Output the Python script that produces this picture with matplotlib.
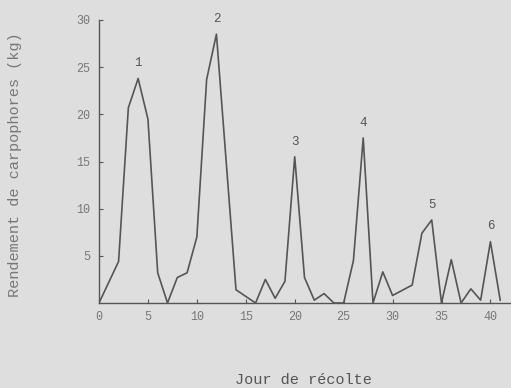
import matplotlib
matplotlib.use('Agg')
import matplotlib.pyplot as plt

# harvest days and yield (kg)
days = [0, 2, 3, 4, 5, 6, 7, 8, 9, 10, 11, 12, 14, 16, 17, 18, 19, 20,
        21, 22, 23, 24, 25, 26, 27, 28, 29, 30, 32, 33, 34, 35, 36, 37,
        38, 39, 40, 41]
yield_kg = [0, 4.4, 20.7, 23.8, 19.5, 3.2, 0, 2.7, 3.2, 7.0, 23.7, 28.5,
            1.4, 0, 2.5, 0.5, 2.3, 15.5, 2.7, 0.3, 1.0, 0, 0, 4.5, 17.5,
            0, 3.3, 0.8, 1.9, 7.4, 8.8, 0, 4.6, 0, 1.5, 0.3, 6.5, 0.3]

peak_labels = ['1', '2', '3', '4', '5', '6']
peak_days = [4, 12, 20, 27, 34, 40]

xticks = [0, 5, 10, 15, 20, 25, 30, 35, 40]
yticks = [5, 10, 15, 20, 25, 30]

bg = '#dedede'
ink = '#555555'
font = 'Liberation Mono'

fig = plt.figure(figsize=(5.11, 3.88), dpi=100, facecolor=bg)
ax = fig.add_axes([99 / 511, 85 / 388, 411 / 511, 283 / 388], facecolor=bg)

ax.plot(days, yield_kg, color=ink, linewidth=1.2)

for lab, d in zip(peak_labels, peak_days):
    v = yield_kg[days.index(d)]
    ax.annotate(lab, (d, v), xytext=(0, 11), textcoords='offset points',
                ha='center', va='center', fontsize=9, family=font,
                color='#555555', annotation_clip=False)

ax.set_xlim(0, 42)
ax.set_ylim(0, 30)
ax.set_xticks(xticks)
ax.set_yticks(yticks)
ax.tick_params(direction='in', length=3, width=0.8, color=ink,
               labelsize=8.5, labelcolor='#777777')
ax.tick_params(axis='x', pad=6)
ax.tick_params(axis='y', pad=6)
for lbl in ax.get_xticklabels() + ax.get_yticklabels():
    lbl.set_family(font)

for s in ['top', 'right']:
    ax.spines[s].set_visible(False)
for s in ['left', 'bottom']:
    ax.spines[s].set_color(ink)
    ax.spines[s].set_linewidth(1.0)

fig.text(15 / 511, 1 - 165 / 388, 'Rendement de carpophores (kg)',
         rotation=90, ha='center', va='center', fontsize=11,
         family=font, color='#777777')
fig.text(303 / 511, 1 - 380 / 388, 'Jour de récolte', ha='center',
         va='center', fontsize=11, family=font, color='#555555')

fig.savefig('out.png', dpi=100, facecolor=bg)
